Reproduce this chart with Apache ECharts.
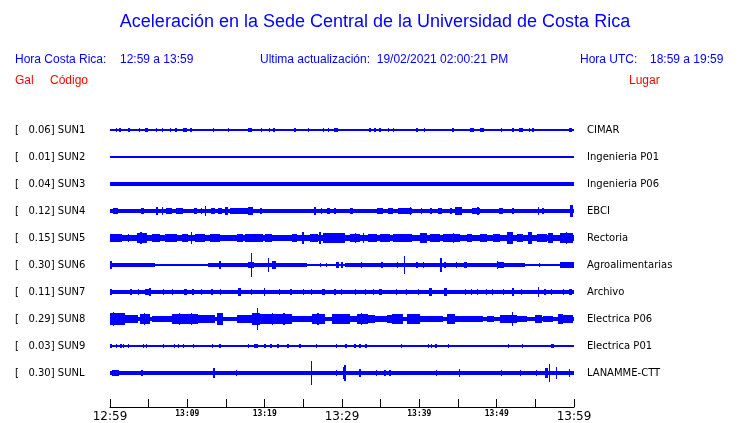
<!DOCTYPE html>
<html><head><meta charset="utf-8">
<script src="https://cdn.jsdelivr.net/npm/echarts@6/dist/echarts.min.js"></script>
<style>html,body{margin:0;padding:0;background:#fff}#c{width:740px;height:423px}</style>
</head><body><div id="c"></div>
<script>
// ---- DATA ----
const TITLE = 'Aceleración en la Sede Central de la Universidad de Costa Rica';
const CODES  = ['SUN1','SUN2','SUN3','SUN4','SUN5','SUN6','SUN7','SUN8','SUN9','SUNL'];
const PEAKS  = ['0.06','0.01','0.04','0.12','0.15','0.30','0.11','0.29','0.03','0.30'];
const PLACES = ['CIMAR','Ingenieria P01','Ingenieria P06','EBCI','Rectoria','Agroalimentarias','Archivo','Electrica P06','Electrica P01','LANAMME-CTT'];
// background half-amplitude of each trace (gal)
const BASES  = [0.018, 0.013, 0.042, 0.05, 0.07, 0.03, 0.045, 0.05, 0.018, 0.045];
// minutes after 12:59 ; [t, amp] spike or [t0, t1, amp] burst ; amp in gal (half range)
const sun1 = [[0.87,0.04],[1.29,0.04],[2.46,0.04],[3.79,0.06],[4.5,4.9,0.04],[6.04,0.04],[6.76,0.04],[7.80,0.04],[8.53,0.06],[9.5,9.9,0.04],[10.47,0.04],[12.63,0.03],[13.36,0.04],[15.3,0.04],[17.2,0.03],[17.9,18.3,0.04],[19.62,0.04],[20.6,0.04],[21.1,21.4,0.06],[23.92,0.04],[25.64,0.04],[26.94,0.03],[27.58,0.04],[28.23,0.06],[29.0,29.5,0.04],[33.62,0.05],[34.27,0.04],[34.92,0.04],[35.99,0.05],[36.63,0.05],[37.2,0.03],[38.1,0.03],[39.0,0.03],[39.7,0.04],[40.7,0.04],[41.1,0.03],[42.0,0.03],[42.7,0.03],[44.2,44.5,0.04],[46.5,47.1,0.06],[47.8,48.4,0.04],[50.65,0.04],[52.1,0.04],[52.9,53.4,0.05],[54.2,0.04],[54.7,0.04],[56.0,0.03],[56.4,0.03],[57.3,0.03],[58.1,0.03],[59.3,59.8,0.05]];
const sun2 = [[30.1,0.025]];
const sun3 = [[27.6,0.06]];
const sun4 = [[0.4,1.0,0.075],[1.85,0.06],[2.88,0.06],[4.0,4.4,0.075],[4.95,0.06],[5.9,6.2,0.1],[6.82,0.1],[7.3,8.0,0.075],[8.5,9.4,0.075],[10.05,0.06],[10.9,11.2,0.075],[11.86,0.075],[12.38,0.13],[13.1,13.6,0.075],[14.0,14.5,0.075],[14.9,15.2,0.1],[15.5,18.5,0.075],[17.8,18.5,0.1],[19.4,19.6,0.075],[20.6,0.06],[21.34,0.06],[22.41,0.06],[23.5,0.06],[25.44,0.06],[26.4,26.6,0.1],[27.38,0.075],[28.0,28.5,0.075],[29.1,0.075],[29.74,0.06],[31.0,31.4,0.075],[32.1,32.4,0.06],[34.5,35.3,0.075],[35.9,36.6,0.075],[37.2,39.0,0.075],[38.9,0.1],[40.3,0.075],[41.4,41.6,0.075],[42.4,42.9,0.075],[44.0,44.2,0.075],[44.6,45.5,0.1],[46.8,47.8,0.075],[47.6,0.1],[48.7,0.06],[49.4,0.06],[50.3,50.8,0.075],[52.1,0.075],[53.45,0.06],[55.3,55.5,0.1],[56.0,0.075],[57.1,0.06],[59.5,59.9,0.14]];
const sun5 = [[0,1.5,0.09],[2.37,0.1],[3.45,4.74,0.125],[4.0,0.15],[5.39,6.47,0.1],[7.11,8.62,0.1],[9.27,10.13,0.09],[10.56,0.15],[10.99,12.28,0.1],[12.93,14.22,0.09],[14.44,15.74,0.08],[16.38,17.24,0.1],[17.46,19.83,0.09],[20.04,20.91,0.1],[21.77,22.85,0.08],[23.5,24.14,0.1],[24.8,25.1,0.15],[25.86,26.94,0.1],[27.0,27.3,0.15],[27.58,30.39,0.113],[31.04,32.33,0.1],[31.7,0.125],[32.76,0.125],[33.4,34.49,0.1],[34.91,36.21,0.1],[36.63,39.01,0.1],[40.09,40.95,0.125],[41.38,42.67,0.1],[43.1,45.26,0.1],[44.39,0.125],[46.12,46.77,0.1],[47.85,48.71,0.1],[49.57,50.43,0.1],[51.3,52.15,0.15],[52.59,53.45,0.1],[54.09,54.53,0.15],[55.18,56.47,0.1],[56.68,57.33,0.125],[58.19,59.91,0.125],[59.0,0.15]];
const sun6 = [[0,0.3,0.1],[0.3,5.82,0.042],[12.7,14.1,0.042],[14.1,14.4,0.1],[14.4,25.2,0.042],[15.5,0.05],[16.0,0.05],[17.9,18.6,0.075],[18.27,0.3],[19.3,19.7,0.05],[20.5,0.165],[21.0,21.5,0.1],[25.2,25.5,0.05],[27.2,0.05],[28.0,0.05],[29.2,29.6,0.075],[30.0,0.075],[30.4,53.67,0.045],[32.5,0.063],[35.0,35.3,0.063],[37.2,0.075],[38.06,0.22],[39.7,0.063],[40.5,0.063],[42.8,0.165],[43.2,43.5,0.075],[44.8,0.075],[45.8,46.2,0.063],[50.08,0.1],[50.1,51.0,0.075],[55.5,0.05],[58.2,59.9,0.063],[59.05,0.075],[59.9,0.075]];
const sun7 = [[0.13,0.063],[2.6,2.8,0.063],[3.66,0.075],[4.5,5.0,0.075],[5.17,0.088],[6.9,0.063],[8.0,8.2,0.063],[9.6,10.0,0.075],[10.6,10.8,0.075],[11.86,0.063],[13.0,13.3,0.075],[14.2,14.4,0.075],[16.5,16.9,0.1],[18.32,0.063],[19.9,20.1,0.088],[21.8,21.9,0.063],[23.3,23.5,0.075],[24.9,25.1,0.063],[26.08,0.063],[27.4,27.8,0.075],[29.1,0.063],[29.96,0.075],[31.77,0.063],[33.07,0.063],[34.05,0.063],[34.8,35.2,0.075],[37.07,0.063],[38.37,0.063],[39.87,0.063],[41.2,41.6,0.088],[43.2,43.6,0.1],[46.0,0.063],[46.77,0.063],[47.4,47.6,0.063],[48.7,0.063],[49.44,0.063],[50.86,0.063],[52.0,52.3,0.088],[53.24,0.063],[55.39,0.125],[56.25,0.063],[57.12,0.063],[58.62,0.063],[59.4,59.7,0.075]];
const sun8 = [[0,1.94,0.15],[0.5,0.175],[1.94,3.66,0.088],[3.88,5.17,0.125],[4.5,0.15],[5.39,7.98,0.063],[7.98,11.42,0.125],[9.0,0.15],[10.5,0.14],[11.42,13.58,0.088],[13.79,14.65,0.138],[16.38,18.32,0.1],[18.32,19.4,0.15],[19.1,0.275],[19.4,23.5,0.113],[21.0,0.15],[22.5,0.14],[23.5,26.08,0.075],[26.08,27.8,0.113],[26.9,0.15],[28.67,30.39,0.113],[30.39,31.04,0.113],[31.04,31.9,0.075],[31.9,33.4,0.125],[32.5,0.15],[33.4,34.27,0.088],[34.27,35.78,0.063],[35.78,36.43,0.088],[36.43,37.93,0.113],[38.37,40.09,0.113],[40.09,41.38,0.063],[41.38,43.1,0.075],[43.54,44.61,0.125],[44.61,46.55,0.075],[46.55,48.27,0.075],[48.8,49.7,0.063],[50.43,52.59,0.1],[52.03,0.175],[52.59,53.88,0.075],[54.96,55.82,0.1],[56.0,57.3,0.075],[57.97,58.62,0.113],[58.62,59.91,0.088]];
const sun9 = [[0.13,0.04],[0.86,0.04],[1.42,0.04],[1.72,0.04],[2.37,0.05],[4.31,0.04],[4.74,0.04],[6.9,0.04],[8.32,0.04],[8.84,0.04],[9.48,0.04],[10.78,0.04],[13.24,0.04],[14.22,0.04],[17.89,0.04],[18.6,19.1,0.04],[20.04,0.04],[20.82,0.04],[21.6,21.8,0.04],[22.9,23.2,0.05],[24.57,0.04],[26.72,0.04],[29.31,0.04],[30.52,0.04],[31.68,0.04],[32.33,0.04],[33.0,33.2,0.04],[34.7,0.03],[36.63,0.03],[37.72,0.04],[39.66,0.03],[41.16,0.04],[41.6,0.04],[42.0,42.3,0.05],[43.75,0.04],[44.39,0.03],[45.26,0.03],[51.51,0.04],[52.15,0.03],[53.37,0.04],[55.39,0.03],[57.0,57.4,0.05],[58.19,0.03]];
const sunl = [[0.2,1.2,0.063],[4.0,4.3,0.075],[13.3,13.6,0.088],[13.45,0.125],[16.38,0.075],[20.04,0.05],[26.08,0.31],[29.2,29.4,0.075],[30.1,30.4,0.15],[30.39,0.19],[32.33,0.1],[34.49,0.063],[35.56,0.063],[36.21,0.063],[42.24,0.063],[45.17,0.088],[50.65,0.075],[53.0,53.2,0.063],[55.18,0.063],[56.2,56.7,0.125],[56.81,0.213],[57.77,0.138],[59.4,0.1]];
const EVENTS = [sun1, sun2, sun3, sun4, sun5, sun6, sun7, sun8, sun9, sunl];
const TICK_MINUTES = [0, 10, 20, 30, 40, 50, 60];
const TICK_LABELS  = ['12:59','13:09','13:19','13:29','13:39','13:49','13:59'];
const BIG_TICKS    = ['12:59','13:29','13:59'];

// ---- CHART ----
const BLUE = '#0000ff', RED = '#ff0000';
const TRACE_TOP = 116.5, TRACE_H = 27, LEFT = 110, RIGHT = 166;
const chart = echarts.init(document.getElementById('c'), null, {renderer: 'canvas'});

function renderItem(params, api) {
  const t0 = api.value(0), t1 = api.value(1), a = api.value(2);
  const p0 = api.coord([t0, a]), p1 = api.coord([t1, -a]);
  let x0 = Math.round(p0[0]), x1 = Math.round(p1[0]);
  let y0 = Math.round(p0[1]), y1 = Math.round(p1[1]);
  if (x1 - x0 < 1) x1 = x0 + 1;
  if (y1 - y0 < 1) y1 = y0 + 1;
  return {type: 'rect', shape: {x: x0, y: y0, width: x1 - x0, height: y1 - y0},
          style: {fill: BLUE}};
}

const grids = [], xAxes = [], yAxes = [], series = [];
CODES.forEach((code, i) => {
  grids.push({left: LEFT, right: RIGHT, top: TRACE_TOP + TRACE_H * i, height: TRACE_H});
  xAxes.push({gridIndex: i, type: 'value', min: 0, max: 60, show: false});
  yAxes.push({gridIndex: i, type: 'value', min: -0.3375, max: 0.3375, show: false});
  const data = [[0, 60, BASES[i]]].concat(EVENTS[i].map(e => e.length === 2 ? [e[0] - 0.08, e[0] + 0.08, e[1]] : e));
  series.push({type: 'custom', xAxisIndex: i, yAxisIndex: i, renderItem, data,
               encode: {x: [0, 1], y: 2}, silent: true, animation: false, clip: false});
});
// time axis
grids.push({left: LEFT, right: RIGHT, top: 380, height: 28});
xAxes.push({gridIndex: 10, type: 'value', min: 0, max: 60, interval: 5, position: 'bottom',
  axisLine: {show: true, lineStyle: {color: '#000', width: 1}},
  axisTick: {show: true, inside: true, length: 8, lineStyle: {color: '#000', width: 1}},
  splitLine: {show: false},
  axisLabel: {show: true, margin: 3, showMinLabel: true, showMaxLabel: true,
    formatter: v => {
      const k = TICK_MINUTES.indexOf(v);
      if (k < 0) return '';
      const s = TICK_LABELS[k];
      return BIG_TICKS.includes(s) ? '{b|' + s + '}' : '{s|' + s + '}';
    },
    rich: {
      b: {fontFamily: 'DejaVu Sans', fontSize: 12, color: '#000', padding: [1, 0, 0, 0]},
      s: {fontFamily: 'DejaVu Sans Mono', fontSize: 8, fontWeight: 'bold', color: '#000'}
    }}
});
yAxes.push({gridIndex: 10, type: 'value', min: 0, max: 1, show: false});

const graphics = [];
const txt = (x, y, text, font, color, align) => graphics.push({type: 'text', x, y,
  style: {text, font, fill: color, textAlign: align || 'left', textVerticalAlign: 'middle'}});
txt(375, 22, TITLE, '18px "Liberation Sans"', BLUE, 'center');
txt(15, 60, 'Hora Costa Rica:', '12px "Liberation Sans"', BLUE);
txt(120, 60, '12:59 a 13:59', '12px "Liberation Sans"', BLUE);
txt(260, 60, 'Ultima actualización:  19/02/2021 02:00:21 PM', '12px "Liberation Sans"', BLUE);
txt(580, 60, 'Hora UTC:', '12px "Liberation Sans"', BLUE);
txt(650, 60, '18:59 a 19:59', '12px "Liberation Sans"', BLUE);
txt(15, 81, 'Gal', '12px "Liberation Sans"', RED);
txt(50, 81, 'Código', '12px "Liberation Sans"', RED);
txt(629, 81, 'Lugar', '12px "Liberation Sans"', RED);
CODES.forEach((code, i) => {
  const yc = TRACE_TOP + TRACE_H * i + TRACE_H / 2;
  txt(15, yc, '[   ' + PEAKS[i] + '] ' + code, '10px "DejaVu Sans"', '#000');
  txt(587, yc, PLACES[i], '10px "DejaVu Sans"', '#000');
});

chart.setOption({animation: false, backgroundColor: '#fff', grid: grids, xAxis: xAxes, yAxis: yAxes,
  series, graphic: {elements: graphics}});
</script></body></html>
